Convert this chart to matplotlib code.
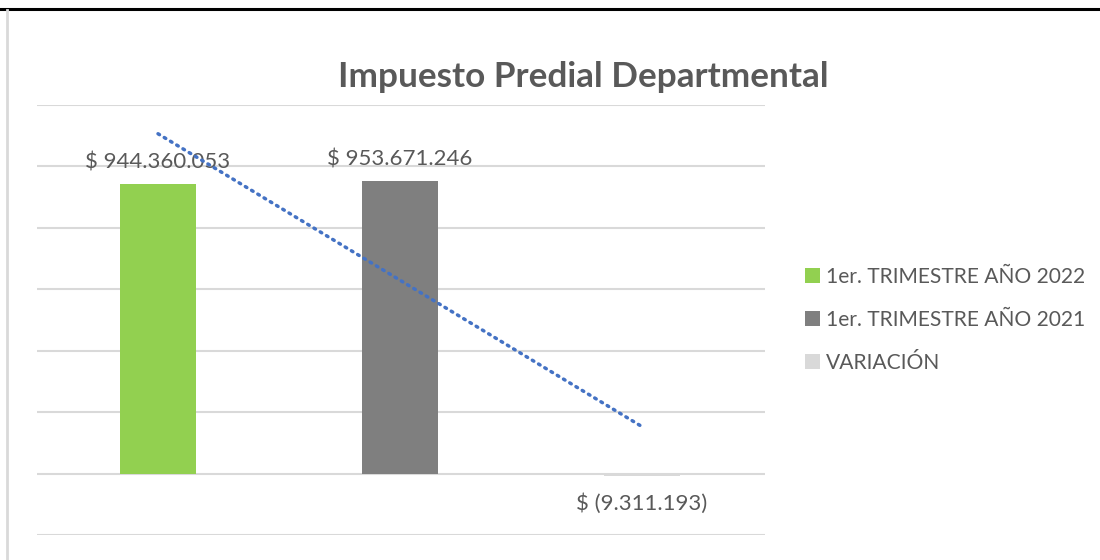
import numpy as np
import matplotlib
matplotlib.use("Agg")
import matplotlib.pyplot as plt
from matplotlib.patches import Patch
from matplotlib.lines import Line2D

plt.rcParams['font.family'] = ['Lato', 'DejaVu Sans']

# data (millions of pesos)
series = ["1er. TRIMESTRE AÑO 2022", "1er. TRIMESTRE AÑO 2021", "VARIACIÓN"]
values = [944.360053, 953.671246, -9.311193]
labels = ["$ 944.360.053", "$ 953.671.246", "$ (9.311.193)"]
colors = ["#92d050", "#7f7f7f", "#d9d9d9"]
text_col = "#595959"

fig = plt.figure(figsize=(11, 5.6), dpi=100)
ax = fig.add_axes([37/1100, 1 - 535/560, (765 - 37)/1100, 430/560])

x = np.arange(len(values))
ax.bar(x, values, width=0.315, color=colors, zorder=3)

# linear trend line
k, b = np.polyfit(x, values, 1)
ax.plot(x, k*x + b, color="#4472c4", lw=2.5, ls=(0, (0.5, 1.6)),
        dash_capstyle='round', zorder=4)

for xi, v, lab in zip(x, values, labels):
    if v >= 0:
        ax.text(xi, v + 70, lab, ha='center', va='center', fontsize=16, color=text_col)
    else:
        ax.text(xi, v - 88, lab, ha='center', va='center', fontsize=16, color=text_col)

ax.set_xlim(-0.5, 2.508)
ax.set_ylim(-200, 1200)
ax.set_yticks(np.arange(-200, 1201, 200))
ax.grid(axis='y', color="#d9d9d9", lw=1.5, zorder=0)
ax.tick_params(left=False, bottom=False, labelleft=False, labelbottom=False)
for s in ax.spines.values():
    s.set_visible(False)

fig.text(583/1100, 1 - 77/560, "Impuesto Predial Departmental", ha='center', va='center',
         fontsize=25.3, fontweight='bold', color=text_col)

handles = [Patch(facecolor=c, edgecolor='none') for c in colors]
fig.legend(handles, series, loc='center left', bbox_to_anchor=(786/1100, 1 - 320/560),
           frameon=False, fontsize=15.1, labelcolor=text_col, handlelength=0.7,
           handleheight=0.7, handletextpad=0.3, labelspacing=1.1)

# screenshot borders
fig.add_artist(Line2D([0, 1], [1 - 9/560, 1 - 9/560], color='black', lw=2.2))
fig.add_artist(Line2D([7/1100, 7/1100], [0, 1 - 10/560], color='#d9d9d9', lw=2))

fig.savefig("out.png", dpi=100, facecolor='white')
